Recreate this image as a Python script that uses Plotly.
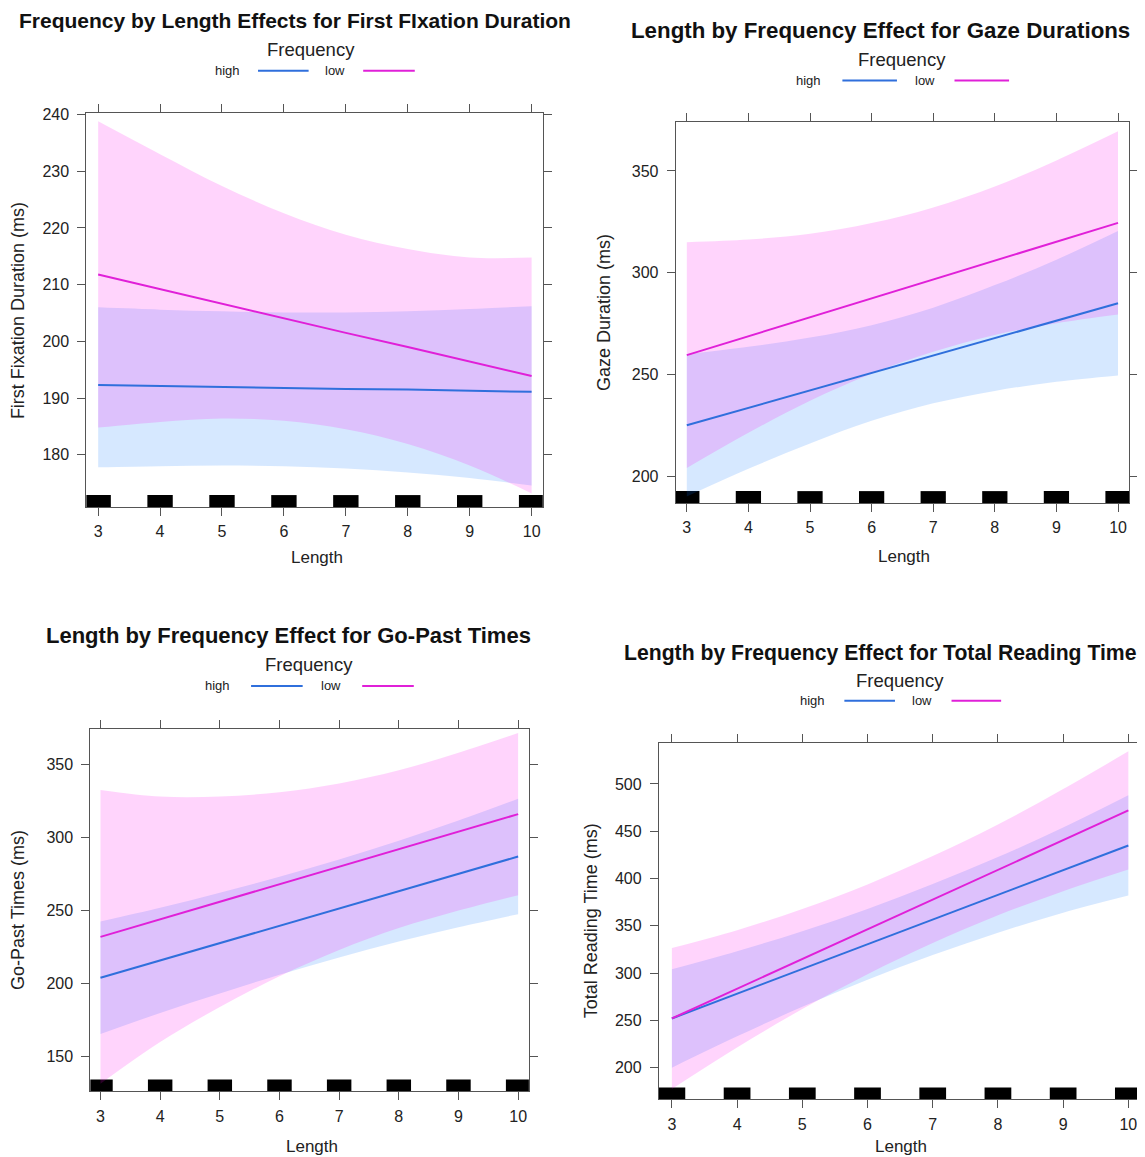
import plotly.graph_objects as go

# ---------------- data ----------------
lengths = [3, 4, 5, 6, 7, 8, 9, 10]

# First fixation duration
ffd_high_fit = [192.3, 192.1, 192.0, 191.8, 191.6, 191.5, 191.3, 191.1]
ffd_high_lo = [177.8, 178.0, 178.1, 178.0, 177.6, 176.9, 175.9, 174.6]
ffd_high_hi = [206.0, 205.6, 205.3, 205.1, 205.1, 205.3, 205.7, 206.2]
ffd_low_fit = [211.8, 209.2, 206.7, 204.1, 201.5, 199.0, 196.4, 193.9]
ffd_low_lo = [184.8, 185.8, 186.4, 186.0, 184.5, 181.9, 178.1, 173.2]
ffd_low_hi = [238.8, 233.0, 227.4, 222.6, 218.8, 216.3, 214.8, 214.8]

# Gaze duration
gd_high_fit = [225.0, 233.6, 242.1, 250.7, 259.3, 267.9, 276.4, 285.0]
gd_high_lo = [190.0, 203.6, 216.1, 227.2, 235.8, 241.9, 246.4, 249.5]
gd_high_hi = [260.0, 263.6, 268.1, 274.2, 282.8, 293.9, 306.4, 320.5]
gd_low_fit = [259.5, 268.8, 278.1, 287.4, 296.6, 305.9, 315.2, 324.5]
gd_low_lo = [204.0, 221.3, 237.1, 250.4, 261.1, 269.4, 275.2, 279.5]
gd_low_hi = [315.0, 316.3, 319.1, 324.4, 332.1, 342.4, 355.2, 369.5]

# Go-past times
gp_high_fit = [204.0, 215.9, 227.7, 239.6, 251.4, 263.3, 275.1, 287.0]
gp_high_lo = [165.5, 179.9, 193.2, 206.1, 217.9, 228.8, 238.6, 247.5]
gp_high_hi = [242.5, 251.9, 262.2, 273.1, 284.9, 297.8, 311.6, 326.5]
gp_low_fit = [232.0, 244.0, 256.0, 268.0, 280.0, 292.0, 304.0, 316.0]
gp_low_lo = [131.5, 160.0, 184.0, 205.0, 223.0, 238.0, 250.0, 260.5]
gp_low_hi = [332.5, 328.0, 328.0, 331.0, 337.0, 346.0, 358.0, 371.5]

# Total reading time
trt_high_fit = [252.0, 278.1, 304.3, 330.4, 356.6, 382.7, 408.9, 435.0]
trt_high_lo = [200.0, 233.1, 264.3, 292.9, 319.1, 342.7, 363.9, 382.0]
trt_high_hi = [304.0, 323.1, 344.3, 367.9, 394.1, 422.7, 453.9, 488.0]
trt_low_fit = [252.0, 283.4, 314.9, 346.3, 377.7, 409.1, 440.6, 472.0]
trt_low_lo = [177.5, 221.4, 261.9, 298.8, 331.7, 361.1, 386.6, 409.5]
trt_low_hi = [326.5, 345.4, 367.9, 393.8, 423.7, 457.1, 494.6, 534.5]

x_ticks = [3, 4, 5, 6, 7, 8, 9, 10]
ffd_yticks = [180, 190, 200, 210, 220, 230, 240]
gd_yticks = [200, 250, 300, 350]
gp_yticks = [150, 200, 250, 300, 350]
trt_yticks = [200, 250, 300, 350, 400, 450, 500]

titles = [
    "Frequency by Length Effects for First FIxation Duration",
    "Length by Frequency Effect for Gaze Durations",
    "Length by Frequency Effect for Go-Past Times",
    "Length by Frequency Effect for Total Reading Time",
]
y_titles = ["First Fixation Duration (ms)", "Gaze Duration (ms)",
            "Go-Past Times (ms)", "Total Reading Time (ms)"]
legend_title = "Frequency"
legend_labels = ["high", "low"]

# ---------------- styling / layout ----------------
W, H = 1145, 1157
OFF = 8  # page body margin
FONT = "Liberation Sans, Arial, Helvetica, sans-serif"
BLUE = "#2f6fdc"
MAG = "#e020d8"
BLUE_FILL = "rgba(0,110,255,0.16)"
MAG_FILL = "rgba(255,0,235,0.17)"
AXC = "#555555"


panels = [
    dict(data=(ffd_high_fit, ffd_high_lo, ffd_high_hi, ffd_low_fit, ffd_low_lo, ffd_low_hi),
         box=(87, 547, 113, 509), yr=(170.8, 240.2), xr=(2.81, 10.18), yt=ffd_yticks,
         title_xy=(297, 20), title_size=21, leg_y=(49, 70),
         leg_x=(313, 229, 260, 311, 338, 366, 418),
         ytitle_x=18, xtitle_y=560, dx=0, dy=-6, dyt=-6),
    dict(data=(gd_high_fit, gd_high_lo, gd_high_hi, gd_low_fit, gd_low_lo, gd_low_hi),
         box=(677, 1134, 122, 505), yr=(186.8, 373.9), xr=(2.82, 10.18), yt=gd_yticks,
         title_xy=(883, 30), title_size=22.3, leg_y=(59, 80),
         leg_x=(905, 811, 845, 900, 928, 958, 1013),
         ytitle_x=604, xtitle_y=559, dx=4, dy=-6, dyt=-6),
    dict(data=(gp_high_fit, gp_high_lo, gp_high_hi, gp_low_fit, gp_low_lo, gp_low_hi),
         box=(91, 533, 727, 1092), yr=(126.2, 374.5), xr=(2.83, 10.18), yt=gp_yticks,
         title_xy=(291, 635), title_size=22, leg_y=(664, 686),
         leg_x=(311, 219, 253, 305, 334, 365, 417),
         ytitle_x=18, xtitle_y=1147, dx=0, dy=-1, dyt=-3),
    dict(data=(trt_high_fit, trt_high_lo, trt_high_hi, trt_low_fit, trt_low_lo, trt_low_hi),
         box=(660, 1150, 741, 1100), yr=(166.4, 543.8), xr=(2.80, 10.24), yt=trt_yticks,
         title_xy=(883, 653), title_size=21.2, leg_y=(681, 701),
         leg_x=(903, 815, 847, 898, 925, 955, 1005),
         ytitle_x=592, xtitle_y=1147, dx=4, dy=-1, dyt=-3),
]

fig = go.Figure()
annotations = []
shapes = []
RUG_PX = 12

for i, p in enumerate(panels):
    dx, dy, dyt = p["dx"], p["dy"], p["dyt"]

    def fx(px, dx=dx):
        return (px + dx - OFF) / W

    def fy(py, d=dy):
        return 1 - (py + d - OFF) / H

    n = "" if i == 0 else str(i + 1)
    xa, ya = "x" + n, "y" + n
    hf, hl, hh, lf, ll, lh = p["data"]
    # bands
    for lo, hi, col in ((hl, hh, BLUE_FILL), (ll, lh, MAG_FILL)):
        fig.add_trace(go.Scatter(x=lengths, y=lo, mode="lines", line=dict(width=0, shape="spline"),
                                 hoverinfo="skip", showlegend=False, xaxis=xa, yaxis=ya))
        fig.add_trace(go.Scatter(x=lengths, y=hi, mode="lines", line=dict(width=0, shape="spline"),
                                 fill="tonexty", fillcolor=col, hoverinfo="skip",
                                 showlegend=False, xaxis=xa, yaxis=ya))
    # fitted lines
    fig.add_trace(go.Scatter(x=lengths, y=hf, mode="lines", line=dict(color=BLUE, width=2),
                             name="high", showlegend=False, xaxis=xa, yaxis=ya))
    fig.add_trace(go.Scatter(x=lengths, y=lf, mode="lines", line=dict(color=MAG, width=2),
                             name="low", showlegend=False, xaxis=xa, yaxis=ya))
    # rug
    x0, x1, y0, y1 = p["box"]
    ymin, ymax = p["yr"]
    rug_h = (ymax - ymin) * RUG_PX / (y1 - y0)
    fig.add_trace(go.Bar(x=lengths, y=[rug_h] * len(lengths), base=ymin, width=0.41,
                         marker=dict(color="black", line=dict(width=0)),
                         hoverinfo="skip", showlegend=False, xaxis=xa, yaxis=ya))

    axis_common = dict(showline=True, linecolor=AXC, linewidth=1, mirror="ticks",
                       ticks="outside", ticklen=8, tickcolor=AXC, tickwidth=1,
                       showgrid=False, zeroline=False,
                       tickfont=dict(family=FONT, size=16, color="#222"))
    fig.layout["xaxis" + n] = dict(domain=[fx(x0), min(fx(x1), 1.0)], range=list(p["xr"]),
                                   anchor=ya, tickvals=x_ticks, ticklabelstandoff=2,
                                   **axis_common)
    fig.layout["yaxis" + n] = dict(domain=[fy(y1), fy(y0)], range=list(p["yr"]),
                                   anchor=xa, tickvals=p["yt"], ticklabelstandoff=5,
                                   **axis_common)

    tx, ty = p["title_xy"]
    annotations.append(dict(text="<b>" + titles[i] + "</b>", x=fx(tx), y=fy(ty, dyt), xref="paper",
                            yref="paper", showarrow=False, xanchor="center", yanchor="middle",
                            font=dict(family=FONT, size=p["title_size"], color="#111")))
    ly_t, ly_r = p["leg_y"]
    lcx, hx, b0, b1, lx, m0, m1 = p["leg_x"]
    annotations.append(dict(text=legend_title, x=fx(lcx), y=fy(ly_t, dyt), xref="paper", yref="paper",
                            showarrow=False, xanchor="center", yanchor="middle",
                            font=dict(family=FONT, size=18.5, color="#222")))
    annotations.append(dict(text=legend_labels[0], x=fx(hx), y=fy(ly_r, dyt), xref="paper", yref="paper",
                            showarrow=False, xanchor="center", yanchor="middle",
                            font=dict(family=FONT, size=13, color="#222")))
    annotations.append(dict(text=legend_labels[1], x=fx(lx), y=fy(ly_r, dyt), xref="paper", yref="paper",
                            showarrow=False, xanchor="center", yanchor="middle",
                            font=dict(family=FONT, size=13, color="#222")))
    shapes.append(dict(type="line", xref="paper", yref="paper", x0=fx(b0), x1=fx(b1),
                       y0=fy(ly_r, dyt), y1=fy(ly_r, dyt), line=dict(color=BLUE, width=2)))
    shapes.append(dict(type="line", xref="paper", yref="paper", x0=fx(m0), x1=fx(m1),
                       y0=fy(ly_r, dyt), y1=fy(ly_r, dyt), line=dict(color=MAG, width=2)))
    annotations.append(dict(text=y_titles[i], x=fx(p["ytitle_x"]), y=fy((y0 + y1) / 2),
                            xref="paper", yref="paper", showarrow=False, textangle=-90,
                            xanchor="center", yanchor="middle",
                            font=dict(family=FONT, size=18, color="#222")))
    annotations.append(dict(text="Length", x=fx((x0 + min(x1, 1145)) / 2 + 2), y=fy(p["xtitle_y"]),
                            xref="paper", yref="paper", showarrow=False,
                            xanchor="center", yanchor="middle",
                            font=dict(family=FONT, size=17, color="#222")))

fig.update_layout(width=W, height=H, margin=dict(l=0, r=0, t=0, b=0),
                  paper_bgcolor="white", plot_bgcolor="white", barmode="overlay",
                  annotations=annotations, shapes=shapes, showlegend=False,
                  font=dict(family=FONT))
fig.write_html("out.html")
